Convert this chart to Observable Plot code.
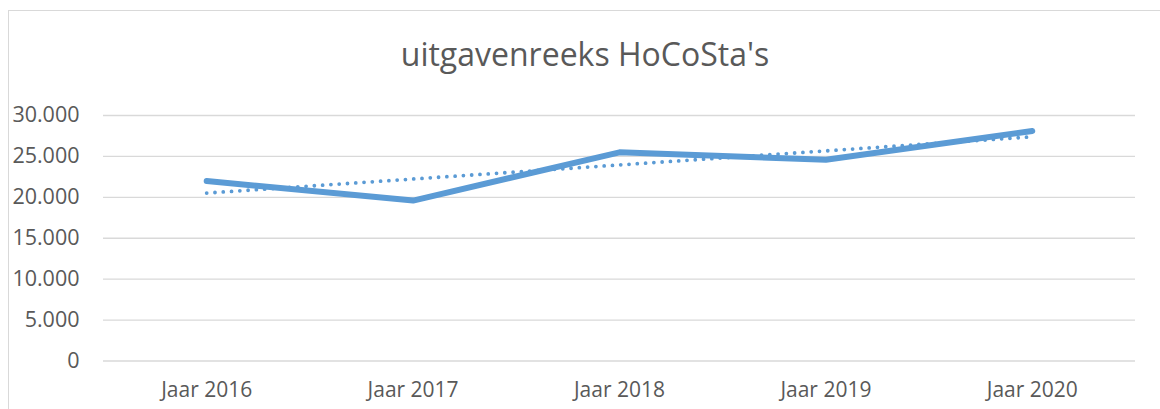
<!DOCTYPE html>
<html>
<head>
<meta charset="utf-8">
<script src="https://cdn.jsdelivr.net/npm/d3@7"></script>
<script src="https://cdn.jsdelivr.net/npm/@observablehq/plot@0.6"></script>
<style>
  html, body { margin: 0; padding: 0; background: #fff; }
  #wrap { position: relative; width: 1160px; height: 409px; overflow: hidden; background: #fff; font-family: "Open Sans", sans-serif; }
  #frame { position: absolute; left: 8px; top: 10px; width: 1300px; height: 600px; border-left: 1.5px solid #d9d9d9; border-top: 1.5px solid #d9d9d9; }
  #title { position: absolute; left: 0; width: 1170px; top: 38px; text-align: center; font-size: 32px; line-height: 32px; color: #595959; white-space: nowrap; }
  #chart { position: absolute; left: 0; top: 95px; }
</style>
</head>
<body>
<div id="wrap">
  <div id="frame"></div>
  <div id="title">uitgavenreeks HoCoSta's</div>
  <div id="chart"></div>
</div>
<script>
const categories = ["Jaar 2016", "Jaar 2017", "Jaar 2018", "Jaar 2019", "Jaar 2020"];
const values = [22000, 19600, 25500, 24600, 28100];
const yTicks = [0, 5000, 10000, 15000, 20000, 25000, 30000];

const data = categories.map((c, i) => ({idx: i, cat: c, value: values[i]}));
const nl = d3.formatLocale({decimal: ",", thousands: ".", grouping: [3], currency: ["€", ""]});
const fmt = nl.format(",");
const blue = "#5B9BD5";

const chart = Plot.plot({
  width: 1160,
  height: 314,
  marginLeft: 103,
  marginRight: 25,
  marginTop: 20,
  marginBottom: 48.5,
  style: {fontFamily: "Open Sans, sans-serif", fontSize: "21.5px", color: "#595959", background: "transparent"},
  x: {type: "linear", domain: [-0.5, categories.length - 0.5], axis: null},
  y: {domain: [0, 30000], axis: null},
  marks: [
    Plot.ruleY(yTicks, {stroke: "#d9d9d9", strokeWidth: 1.4}),
    Plot.axisY({ticks: yTicks, tickSize: 0, tickPadding: 24, tickFormat: d => fmt(d), label: null, fill: "#595959", fontSize: 21.5}),
    Plot.axisX({ticks: categories.map((c, i) => i), tickSize: 0, tickPadding: 21, tickFormat: i => categories[i], label: null, fill: "#595959", fontSize: 21}),
    Plot.linearRegressionY(data, {x: "idx", y: "value", ci: 0, stroke: blue, strokeWidth: 3.8, strokeDasharray: "0 8.3", strokeLinecap: "round"}),
    Plot.line(data, {x: "idx", y: "value", stroke: blue, strokeWidth: 6, strokeLinejoin: "round", strokeLinecap: "round"})
  ]
});
document.getElementById("chart").appendChild(chart);
</script>
</body>
</html>
